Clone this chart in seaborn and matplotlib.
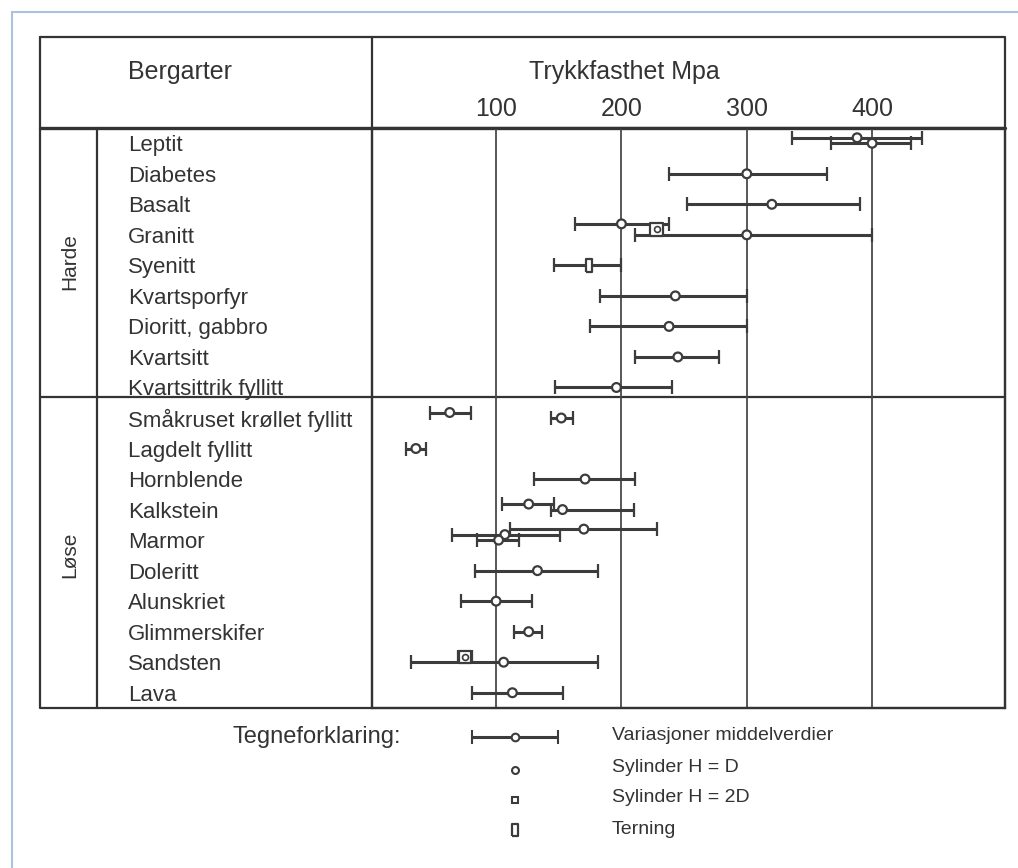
import numpy as np
import pandas as pd
import matplotlib
matplotlib.use("Agg")
import matplotlib.pyplot as plt
import seaborn as sns

# bergarter (rader ovenfra og ned)
harde = ["Leptit", "Diabetes", "Basalt", "Granitt", "Syenitt", "Kvartsporfyr",
         "Dioritt, gabbro", "Kvartsitt", "Kvartsittrik fyllitt"]
lose = ["Småkruset krøllet fyllitt", "Lagdelt fyllitt", "Hornblende", "Kalkstein",
        "Marmor", "Doleritt", "Alunskriet", "Glimmerskifer", "Sandsten", "Lava"]

# målinger: bergart, prøveform, min, middel, maks (MPa)
bergart = ["Leptit", "Leptit", "Diabetes", "Basalt", "Granitt", "Granitt", "Granitt",
           "Syenitt", "Kvartsporfyr", "Dioritt, gabbro", "Kvartsitt", "Kvartsittrik fyllitt",
           "Småkruset krøllet fyllitt", "Småkruset krøllet fyllitt", "Lagdelt fyllitt",
           "Hornblende", "Kalkstein", "Kalkstein", "Marmor", "Marmor", "Marmor",
           "Doleritt", "Alunskriet", "Glimmerskifer", "Sandsten", "Sandsten", "Lava"]
form = ["H=D", "H=D", "H=D", "H=D", "H=D", "H=2D", "H=D",
        "Terning", "H=D", "H=D", "H=D", "H=D",
        "H=D", "H=D", "H=D",
        "H=D", "H=D", "H=D", "H=D", "H=D", "H=D",
        "H=D", "H=D", "H=D", "H=2D", "H=D", "H=D"]
lav = [336, 367, 238, 252, 163, np.nan, 211,
       146, 183, 175, 211, 147,
       47, 144, 28,
       130, 105, 144, 111, 65, 85,
       83, 72, 114, 70, 32, 81]
middel = [388, 400, 300, 320, 200, 228, 300,
          174, 243, 238, 245, 196,
          63, 152, 36,
          171, 126, 153, 170, 107, 102,
          133, 100, 126, 75, 106, 113]
hoy = [440, 431, 364, 390, 238, np.nan, 400,
       200, 300, 300, 278, 240,
       80, 161, 44,
       211, 146, 210, 228, 151, 118,
       181, 129, 137, 81, 181, 153]

ticks = [100, 200, 300, 400]

rader = harde + lose
df = pd.DataFrame({"bergart": bergart, "form": form, "lav": lav,
                   "middel": middel, "hoy": hoy})
df["rad"] = df["bergart"].map({r: i for i, r in enumerate(rader)})
# flere målinger i samme rad legges litt over hverandre
df["nr"] = df.groupby("bergart").cumcount()
df["antall"] = df.groupby("bergart")["bergart"].transform("size")
df["y"] = df["rad"] + (df["nr"] - (df["antall"] - 1)) * 0.18

sns.set_theme(style="white")
plt.rcParams["font.family"] = ["Liberation Sans", "DejaVu Sans"]

W, H = 1018, 868
fig = plt.figure(figsize=(W / 100, H / 100), dpi=100)
ink = "#333333"

# bakgrunn i pikselkoordinater for tabellrammen
bg = fig.add_axes([0, 0, 1, 1], zorder=0)
bg.set_xlim(0, W)
bg.set_ylim(H, 0)
bg.axis("off")

def px(x0, x1, y0, y1):
    return [x0 / W, 1 - y1 / H, (x1 - x0) / W, (y1 - y0) / H]

ax = fig.add_axes(px(372, 1005, 128, 708), zorder=2)
ax.set_facecolor("none")

ok = df["lav"].notna()
ax.errorbar(df.loc[ok, "middel"], df.loc[ok, "y"],
            xerr=[df.loc[ok, "middel"] - df.loc[ok, "lav"], df.loc[ok, "hoy"] - df.loc[ok, "middel"]],
            fmt="none", ecolor="#3c3c3c", elinewidth=2.2, capsize=5, capthick=1.6, zorder=3)

rect = [(-0.5, -1), (0.5, -1), (0.5, 1), (-0.5, 1), (-0.5, -1)]
sns.scatterplot(data=df, x="middel", y="y", style="form",
                markers={"H=D": "o", "H=2D": "s", "Terning": rect},
                size="form", sizes={"H=D": 40, "H=2D": 80, "Terning": 90},
                color="white", edgecolor="#3c3c3c", linewidth=1.6,
                legend=False, ax=ax, zorder=4)
sq = df[df["form"] == "H=2D"]
sns.scatterplot(data=sq, x="middel", y="y", marker="o", s=18, color="white",
                edgecolor="#3c3c3c", linewidth=1.2, legend=False, ax=ax, zorder=5)

for t in ticks:
    ax.axvline(t, color="#4a4a4a", lw=1.3, zorder=1)

ax.set_xlim(1, 506)
ax.set_ylim(len(rader) - 0.5, -0.5)
ax.xaxis.tick_top()
ax.set_xticks(ticks)
ax.set_xticklabels([str(t) for t in ticks], fontsize=18, color=ink)
ax.tick_params(axis="x", length=0, pad=5)
ax.set_yticks(range(len(rader)))
ax.set_yticklabels(rader, fontsize=16, color=ink)
for lab in ax.get_yticklabels():
    lab.set_ha("left")
ax.tick_params(axis="y", length=0, pad=(372 - 128) * 0.72)
ax.set_xlabel("")
ax.set_ylabel("")
for s in ax.spines.values():
    s.set_color(ink)
    s.set_linewidth(1.6)
    s.set_visible(True)

# tabellramme
lc = dict(color=ink, lw=1.6)
bg.plot([40, 1005, 1005, 40, 40], [37, 37, 708, 708, 37], **lc)
bg.plot([40, 1005], [128, 128], color=ink, lw=2.4)
bg.plot([40, 1005], [397, 397], **lc)
bg.plot([372, 372], [37, 708], **lc)
bg.plot([97, 97], [128, 708], **lc)
# lys blå sidekant
bg.plot([12, 1018], [12, 12], color="#a9c3de", lw=1.5)
bg.plot([12, 12], [12, 868], color="#a9c3de", lw=1.5)

bg.text(128, 72, "Bergarter", fontsize=18, color=ink, va="center", ha="left")
bg.text(624, 72, "Trykkfasthet Mpa", fontsize=18, color=ink, va="center", ha="center")
bg.text(70, 262, "Harde", fontsize=15, color=ink, rotation=90, va="center", ha="center")
bg.text(70, 555, "Løse", fontsize=15, color=ink, rotation=90, va="center", ha="center")

# tegneforklaring
bg.text(233, 737, "Tegneforklaring:", fontsize=17, color=ink, va="center", ha="left")
bg.errorbar([515], [737], xerr=[[43], [43]], fmt="o", ms=5.5, mfc="white", mec="#3c3c3c",
            mew=1.5, ecolor="#3c3c3c", elinewidth=2.2, capsize=5, capthick=1.6)
bg.plot([515], [770], marker="o", ms=5, mfc="white", mec="#3c3c3c", mew=1.5)
bg.plot([515], [800], marker="s", ms=5, mfc="white", mec="#3c3c3c", mew=1.5)
bg.plot([515], [830], marker=rect, ms=9, mfc="white", mec="#3c3c3c", mew=1.6)
for yy, txt in zip([735, 767, 798, 830],
                   ["Variasjoner middelverdier", "Sylinder H = D", "Sylinder H = 2D", "Terning"]):
    bg.text(612, yy, txt, fontsize=14, color=ink, va="center", ha="left")

fig.savefig("out.png", dpi=100)
